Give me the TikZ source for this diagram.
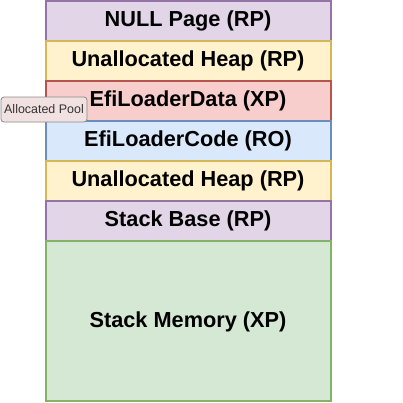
\documentclass[tikz,border=0pt]{standalone}
\usepackage{fontspec}
\setmainfont{Liberation Sans}
\definecolor{pfill}{HTML}{E1D5E7}\definecolor{pdraw}{HTML}{9673A6}
\definecolor{yfill}{HTML}{FFF2CC}\definecolor{ydraw}{HTML}{D6B656}
\definecolor{rfill}{HTML}{F8CECC}\definecolor{rdraw}{HTML}{B85450}
\definecolor{bfill}{HTML}{DAE8FC}\definecolor{bdraw}{HTML}{6C8EBF}
\definecolor{gfill}{HTML}{D5E8D4}\definecolor{gdraw}{HTML}{82B366}
\definecolor{lfill}{HTML}{F2E1E1}\definecolor{ldraw}{HTML}{8A8A8A}
\begin{document}
\begin{tikzpicture}[x=1bp,y=-1bp,
  region/.style={line width=2bp,fill=#1fill,draw=#1draw},
  rtext/.style={font=\fontsize{21.8}{24}\selectfont\bfseries,text=black},
  tag/.style={draw=ldraw,fill=lfill,rounded corners=3bp,line width=0.8bp,
    font=\fontsize{12.5}{14}\selectfont,text={black!80},inner sep=0pt,
    minimum width=86bp,minimum height=25bp}]
\useasboundingbox (0,0) rectangle (403,403);
\draw[region=p] (45.5,1) rectangle (330.5,41);
\draw[region=y] (45.5,41) rectangle (330.5,81);
\draw[region=r] (45.5,81) rectangle (330.5,121);
\draw[region=b] (45.5,121) rectangle (330.5,161);
\draw[region=y] (45.5,161) rectangle (330.5,201);
\draw[region=p] (45.5,201) rectangle (330.5,241);
\draw[region=g] (45.5,241) rectangle (330.5,401);
\node[rtext] (n1) at (188,21) {NULL Page (RP)};
\node[rtext] (n2) at (188,61) {Unallocated Heap (RP)};
\node[rtext] (n3) at (188,101) {EfiLoaderData (XP)};
\node[rtext] (n4) at (188,141) {EfiLoaderCode (RO)};
\node[rtext] (n5) at (188,181) {Unallocated Heap (RP)};
\node[rtext] (n6) at (188,221) {Stack Base (RP)};
\node[rtext] (n7) at (188,322) {Stack Memory (XP)};
\node[tag] (pool) at (44,109.5) {Allocated Pool};
\end{tikzpicture}
\end{document}
